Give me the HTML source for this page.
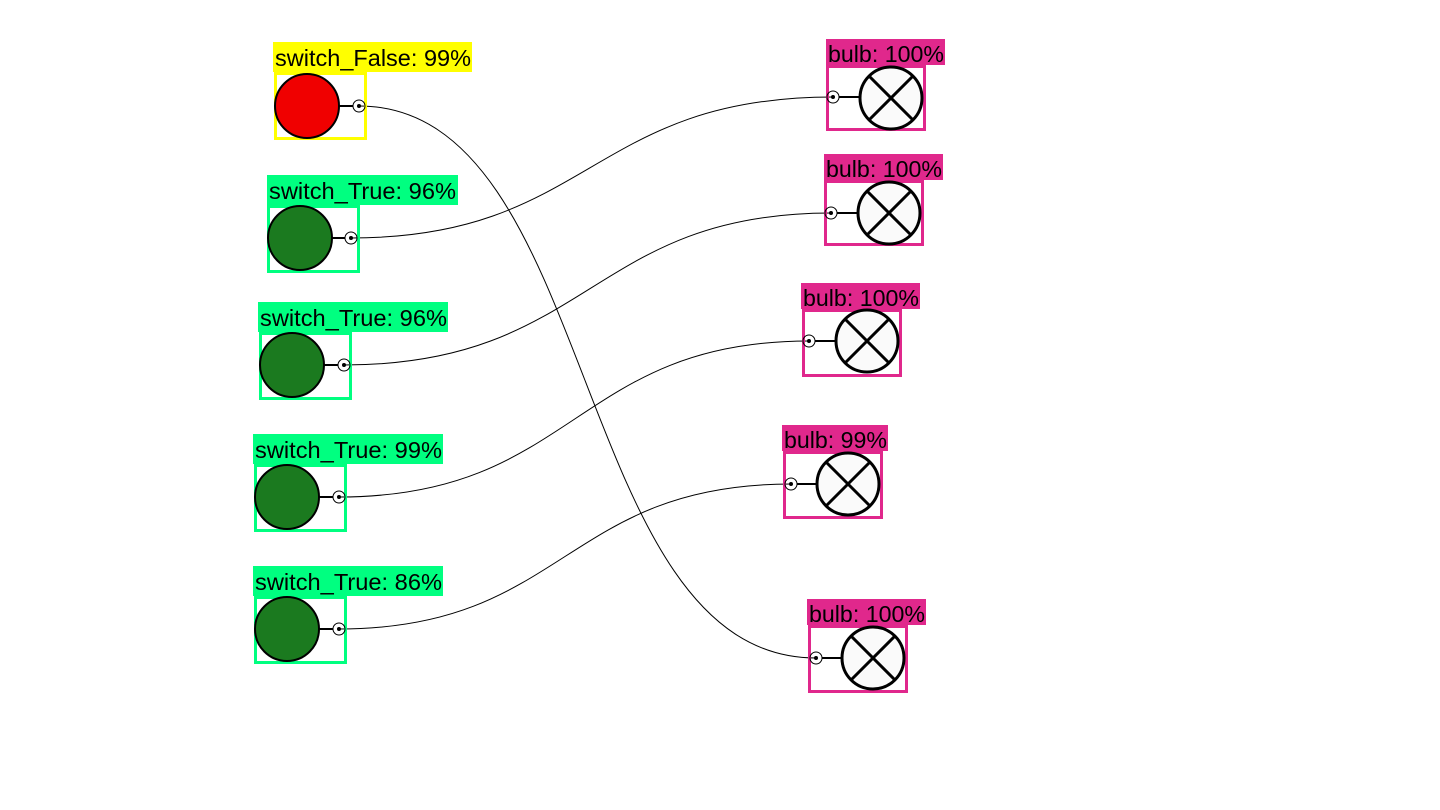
<!DOCTYPE html>
<html><head><style>html,body{margin:0;padding:0;background:#fff}svg{display:block}text{font-family:"Liberation Sans",sans-serif;font-size:23px}</style></head>
<body>
<svg width="1440" height="810" viewBox="0 0 1440 810" xmlns="http://www.w3.org/2000/svg">
<g fill="none" stroke="#000" stroke-width="1">
<path d="M359,106 C600,106 570,658 816,658"/>
<path d="M351,238 C590,238 590,97 833,97"/>
<path d="M344,365 C590,365 590,213 831,213"/>
<path d="M339,497 C575,497 575,341 809,341"/>
<path d="M339,629 C565,629 565,484 791,484"/>
</g>
<g>
<rect x="273" y="42" width="199" height="30" fill="#ffff00"/><text x="275" y="66" textLength="196" lengthAdjust="spacingAndGlyphs">switch_False: 99%</text>
<rect x="275.5" y="73.5" width="90" height="65" fill="none" stroke="#ffff00" stroke-width="3"/>
<circle cx="307" cy="106" r="32" fill="#f00000" stroke="#000" stroke-width="2"/>
<line x1="339" y1="106" x2="353" y2="106" stroke="#000" stroke-width="2"/>
<circle cx="359" cy="106" r="6" fill="none" stroke="#000" stroke-width="1"/><circle cx="359" cy="106" r="2" fill="#000"/>

<rect x="267" y="175" width="191" height="30" fill="#00ff80"/><text x="269" y="199" textLength="187" lengthAdjust="spacingAndGlyphs">switch_True: 96%</text>
<rect x="268.5" y="206.5" width="90" height="65" fill="none" stroke="#00ff80" stroke-width="3"/>
<circle cx="300" cy="238" r="32" fill="#1b7a1f" stroke="#000" stroke-width="2"/>
<line x1="332" y1="238" x2="345" y2="238" stroke="#000" stroke-width="2"/>
<circle cx="351" cy="238" r="6" fill="none" stroke="#000"/><circle cx="351" cy="238" r="2" fill="#000"/>

<rect x="258" y="302" width="190" height="30" fill="#00ff80"/><text x="260" y="326" textLength="187" lengthAdjust="spacingAndGlyphs">switch_True: 96%</text>
<rect x="260.5" y="333.5" width="90" height="65" fill="none" stroke="#00ff80" stroke-width="3"/>
<circle cx="292" cy="365" r="32" fill="#1b7a1f" stroke="#000" stroke-width="2"/>
<line x1="324" y1="365" x2="338" y2="365" stroke="#000" stroke-width="2"/>
<circle cx="344" cy="365" r="6" fill="none" stroke="#000"/><circle cx="344" cy="365" r="2" fill="#000"/>

<rect x="253" y="434" width="190" height="30" fill="#00ff80"/><text x="255" y="458" textLength="187" lengthAdjust="spacingAndGlyphs">switch_True: 99%</text>
<rect x="255.5" y="465.5" width="90" height="65" fill="none" stroke="#00ff80" stroke-width="3"/>
<circle cx="287" cy="497" r="32" fill="#1b7a1f" stroke="#000" stroke-width="2"/>
<line x1="319" y1="497" x2="333" y2="497" stroke="#000" stroke-width="2"/>
<circle cx="339" cy="497" r="6" fill="none" stroke="#000"/><circle cx="339" cy="497" r="2" fill="#000"/>

<rect x="253" y="566" width="190" height="30" fill="#00ff80"/><text x="255" y="590" textLength="187" lengthAdjust="spacingAndGlyphs">switch_True: 86%</text>
<rect x="255.5" y="597.5" width="90" height="65" fill="none" stroke="#00ff80" stroke-width="3"/>
<circle cx="287" cy="629" r="32" fill="#1b7a1f" stroke="#000" stroke-width="2"/>
<line x1="319" y1="629" x2="333" y2="629" stroke="#000" stroke-width="2"/>
<circle cx="339" cy="629" r="6" fill="none" stroke="#000"/><circle cx="339" cy="629" r="2" fill="#000"/>
</g>
<g>
<g transform="translate(0,0)">
<rect x="826" y="39" width="119" height="26" fill="#e0288c"/><text x="828" y="62" textLength="116" lengthAdjust="spacingAndGlyphs">bulb: 100%</text>
<rect x="827.5" y="66.5" width="97" height="63" fill="none" stroke="#e0288c" stroke-width="3"/>
<circle cx="891" cy="98" r="31" fill="#fafafa" stroke="#000" stroke-width="3"/>
<path d="M869,76 L913,120 M913,76 L869,120" stroke="#000" stroke-width="3"/>
<line x1="839" y1="97" x2="860" y2="97" stroke="#000" stroke-width="2"/>
<circle cx="833" cy="97" r="6" fill="none" stroke="#000"/><circle cx="833" cy="97" r="2" fill="#000"/>
</g>
<g transform="translate(-2,115)">
<rect x="826" y="39" width="119" height="26" fill="#e0288c"/><text x="828" y="62" textLength="116" lengthAdjust="spacingAndGlyphs">bulb: 100%</text>
<rect x="827.5" y="66.5" width="97" height="63" fill="none" stroke="#e0288c" stroke-width="3"/>
<circle cx="891" cy="98" r="31" fill="#fafafa" stroke="#000" stroke-width="3"/>
<path d="M869,76 L913,120 M913,76 L869,120" stroke="#000" stroke-width="3"/>
<line x1="839" y1="98" x2="860" y2="98" stroke="#000" stroke-width="2"/>
<circle cx="833" cy="98" r="6" fill="none" stroke="#000"/><circle cx="833" cy="98" r="2" fill="#000"/>
</g>
<g transform="translate(-24,244)">
<rect x="825" y="39" width="119" height="26" fill="#e0288c"/><text x="827" y="62" textLength="116" lengthAdjust="spacingAndGlyphs">bulb: 100%</text>
<rect x="827.5" y="66.5" width="97" height="65" fill="none" stroke="#e0288c" stroke-width="3"/>
<circle cx="891" cy="97" r="31" fill="#fafafa" stroke="#000" stroke-width="3"/>
<path d="M869,75 L913,119 M913,75 L869,119" stroke="#000" stroke-width="3"/>
<line x1="839" y1="97" x2="860" y2="97" stroke="#000" stroke-width="2"/>
<circle cx="833" cy="97" r="6" fill="none" stroke="#000"/><circle cx="833" cy="97" r="2" fill="#000"/>
</g>
<g transform="translate(-43,387)">
<rect x="825" y="38" width="106" height="26" fill="#e0288c"/><text x="827" y="61" textLength="103" lengthAdjust="spacingAndGlyphs">bulb: 99%</text>
<rect x="827.5" y="65.5" width="97" height="65" fill="none" stroke="#e0288c" stroke-width="3"/>
<circle cx="891" cy="97" r="31" fill="#fafafa" stroke="#000" stroke-width="3"/>
<path d="M869,75 L913,119 M913,75 L869,119" stroke="#000" stroke-width="3"/>
<line x1="840" y1="97" x2="860" y2="97" stroke="#000" stroke-width="2"/>
<circle cx="834" cy="97" r="6" fill="none" stroke="#000"/><circle cx="834" cy="97" r="2" fill="#000"/>
</g>
<g transform="translate(-18,561)">
<rect x="825" y="38" width="119" height="26" fill="#e0288c"/><text x="827" y="61" textLength="116" lengthAdjust="spacingAndGlyphs">bulb: 100%</text>
<rect x="827.5" y="65.5" width="97" height="65" fill="none" stroke="#e0288c" stroke-width="3"/>
<circle cx="891" cy="97" r="31" fill="#fafafa" stroke="#000" stroke-width="3"/>
<path d="M869,75 L913,119 M913,75 L869,119" stroke="#000" stroke-width="3"/>
<line x1="840" y1="97" x2="860" y2="97" stroke="#000" stroke-width="2"/>
<circle cx="834" cy="97" r="6" fill="none" stroke="#000"/><circle cx="834" cy="97" r="2" fill="#000"/>
</g>
</g>
</svg>
</body></html>
